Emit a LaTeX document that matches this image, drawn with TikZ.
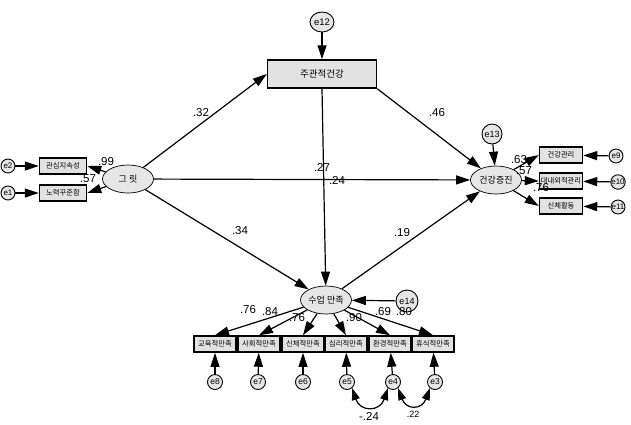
\documentclass[tikz,border=0pt]{standalone}
\usepackage{fontspec}
\setmainfont{Liberation Sans}
\newfontfamily\kr{Noto Sans CJK KR}
\usetikzlibrary{arrows.meta,shapes.geometric}
\definecolor{boxgray}{HTML}{E2E2E2}
\definecolor{ellgray}{HTML}{E6E6E6}
\tikzset{
  obs/.style={draw, line width=1.5pt, fill=boxgray, minimum width=42pt, minimum height=16pt, inner sep=0pt, font=\kr\fontsize{7.3}{8}\selectfont},
  lat/.style={ellipse, draw, line width=0.7pt, fill=ellgray, minimum width=51pt, minimum height=28pt, inner sep=0pt, font=\kr\fontsize{9}{10}\selectfont},
  err/.style={circle, draw, line width=0.9pt, fill=ellgray, minimum size=15pt, inner sep=0pt, font=\fontsize{8.5}{9}\selectfont},
  smallerr/.style={err, minimum size=14pt, font=\fontsize{8}{8}\selectfont},
  arr/.style={-{Triangle[length=14pt,width=9pt]}, line width=1.2pt},
  cov/.style={{Triangle[length=12pt,width=8pt]}-{Triangle[length=12pt,width=8pt]}, line width=1.2pt},
  lab/.style={inner sep=0pt, font=\fontsize{11.5}{12}\selectfont},
}
\begin{document}
\begin{tikzpicture}[x=1pt,y=-1pt]
\useasboundingbox[fill=white] (0,0) rectangle (631,424);

% latent variables
\node[lat] (grit) at (128,179) {그 릿};
\node[lat] (hp) at (496,180) {건강증진};
\node[lat] (cs) at (326,300) {수업 만족};
\node[draw, line width=1.5pt, fill=boxgray, minimum width=109pt, minimum height=28pt, inner sep=0pt, font=\kr\fontsize{9.5}{10}\selectfont] (sh) at (322,74) {주관적건강};

% errors
\node[err, minimum width=24pt, minimum height=20pt, ellipse, font=\fontsize{9.5}{10}\selectfont] (e12) at (322,22) {e12};
\node[err, minimum size=20pt, font=\fontsize{9}{10}\selectfont] (e13) at (492,134) {e13};
\node[err, minimum size=22pt, font=\fontsize{9}{10}\selectfont] (e14) at (407,301) {e14};

% grit indicators
\node[obs, minimum width=47pt] (b1) at (63,166) {관심지속성};
\node[obs, minimum width=47pt] (b2) at (63,193) {노력꾸준함};
\node[smallerr] (e2) at (8,166) {e2};
\node[smallerr] (e1) at (8,193) {e1};

% health promotion indicators
\node[obs, minimum width=43pt] (h1) at (561,155) {건강관리};
\node[obs, minimum width=43pt] (h2) at (561,181) {대내외적관리};
\node[obs, minimum width=43pt] (h3) at (561,206) {신체활동};
\node[smallerr] (e9) at (616,156) {e9};
\node[smallerr] (e10) at (618,182) {e10};
\node[smallerr] (e11) at (618,207) {e11};

% class satisfaction indicators
\node[obs] (s1) at (215,344) {교육적만족};
\node[obs] (s2) at (259,344) {사회적만족};
\node[obs] (s3) at (303,344) {신체적만족};
\node[obs] (s4) at (346,344) {심리적만족};
\node[obs] (s5) at (390,344) {환경적만족};
\node[obs] (s6) at (433,344) {휴식적만족};
\node[err] (e8) at (215,382) {e8};
\node[err] (e7) at (258,382) {e7};
\node[err] (e6) at (303,382) {e6};
\node[err] (e5) at (347,382) {e5};
\node[err] (e4) at (393,382) {e4};
\node[err] (e3) at (435,382) {e3};

% structural paths
\draw[arr] (e12) -- (sh);
\draw[arr] (grit) -- (sh.west);
\draw[arr] (sh.south east) -- (hp);
\draw[arr] (sh.south) -- (cs);
\draw[arr] (grit) -- (hp);
\draw[arr] (grit) -- (cs);
\draw[arr] (cs) -- (hp);
\draw[arr] (e13) -- (hp);
\draw[arr] (e14) -- (cs);

% measurement paths
\draw[arr] (grit) -- (b1.east);
\draw[arr] (grit) -- (b2.east);
\draw[arr] (e2) -- (b1);
\draw[arr] (e1) -- (b2);
\draw[arr] (hp) -- (h1.west);
\draw[arr] (hp) -- (h2.west);
\draw[arr] (hp) -- (h3.west);
\draw[arr] (e9) -- (h1);
\draw[arr] (e10) -- (h2);
\draw[arr] (e11) -- (h3);
\foreach \s in {s1,s2,s3,s4,s5,s6} \draw[arr] (cs) -- (\s.north);
\draw[arr] (e8) -- (s1);
\draw[arr] (e7) -- (s2);
\draw[arr] (e6) -- (s3);
\draw[arr] (e5) -- (s4);
\draw[arr] (e4) -- (s5);
\draw[arr] (e3) -- (s6);

% covariances
\draw[cov] (e5.-50) .. controls +(8,24) and +(-8,24) .. (e4.-130);
\draw[cov] (e4.-50) .. controls +(8,22) and +(-8,22) .. (e3.-130);

% labels
\node[lab] (l1) at (201,113) {.32};
\node[lab] (l2) at (437,113) {.46};
\node[lab] (l3) at (322,167) {.27};
\node[lab] (l4) at (337,180) {.24};
\node[lab] (l5) at (240,231) {.34};
\node[lab] (l6) at (402,233) {.19};
\node[lab] (l7) at (106,162) {.99};
\node[lab] (l8) at (88,179) {.57};
\node[lab] (l9) at (519,160) {.63};
\node[lab] (l10) at (524,171) {.57};
\node[lab] (l11) at (541,188) {.76};
\node[lab] (l12) at (248,310) {.76};
\node[lab] (l13) at (270,312) {.84};
\node[lab] (l14) at (297,318) {.76};
\node[lab] (l15) at (354,318) {.90};
\node[lab] (l16) at (383,312) {.69};
\node[lab] (l17) at (404,312) {.80};
\node[lab] (l18) at (369,416) {-.24};
\node[lab, font=\fontsize{9}{9}\selectfont] (l19) at (413,414) {.22};
\end{tikzpicture}
\end{document}
